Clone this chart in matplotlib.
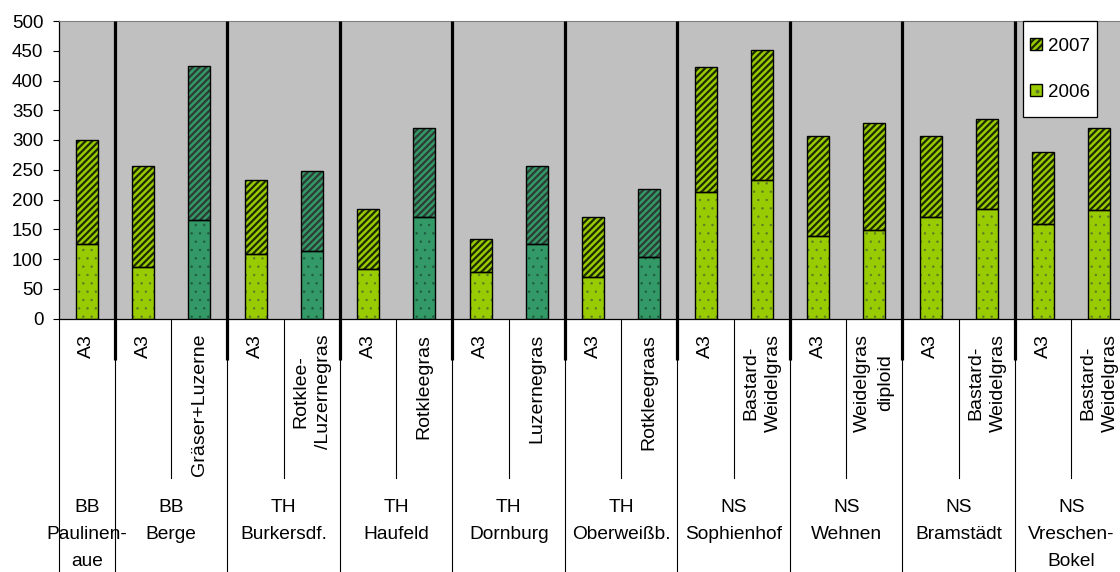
import matplotlib
matplotlib.use("Agg")
import matplotlib.pyplot as plt
from matplotlib.patches import Patch, Rectangle
from matplotlib.transforms import blended_transform_factory

plt.rcParams['font.family'] = ['Liberation Sans', 'DejaVu Sans']
plt.rcParams['hatch.linewidth'] = 1.6

# ---- data -------------------------------------------------------------
groups = ["BB\nPaulinen-\naue", "BB\nBerge", "TH\nBurkersdf.", "TH\nHaufeld",
          "TH\nDornburg", "TH\nOberweißb.", "NS\nSophienhof", "NS\nWehnen",
          "NS\nBramstädt", "NS\nVreschen-\nBokel"]
group_sizes = [1, 2, 2, 2, 2, 2, 2, 2, 2, 2]
categories = ["A3",
              "A3", "Gräser+Luzerne",
              "A3", "Rotklee-\n/Luzernegras",
              "A3", "Rotkleegras",
              "A3", "Luzernegras",
              "A3", "Rotkleegraas",
              "A3", "Bastard-\nWeidelgras",
              "A3", "Weidelgras\ndiploid",
              "A3", "Bastard-\nWeidelgras",
              "A3", "Bastard-\nWeidelgras"]
v2006 = [125, 87, 166, 108, 113, 84, 171, 78, 126, 69, 103,
         213, 232, 139, 148, 171, 184, 158, 182]
v2007 = [175, 169, 259, 124, 135, 100, 149, 56, 130, 102, 114,
         210, 219, 168, 180, 136, 151, 122, 138]
# mixtures on the BB / TH sites are drawn in the second colour
mixture = [False, False, True, False, True, False, True, False, True, False, True,
           False, False, False, False, False, False, False, False]
yticks = list(range(0, 501, 50))

# ---- style ------------------------------------------------------------
W, H = 1120, 572
GREEN, TEAL = "#99cc00", "#339966"
HATCH_GREEN, HATCH_TEAL = "#1e2a00", "#2e3a36"
DOT_GREEN, DOT_TEAL = "#5d7a28", "#1f5a40"


def fy(px):
    """pixel row (from top) -> figure fraction"""
    return 1 - px / H


def thin_dots(container):
    for p in container:
        if hasattr(p, "set_hatch_linewidth"):
            p.set_hatch_linewidth(0.5)


fig = plt.figure(figsize=(W / 100, H / 100), dpi=100)
ax = fig.add_axes([58.7 / W, fy(318.5), 19 * 56.25 / W, (318.5 - 21) / H])
ax.set_facecolor("#c0c0c0")

x = list(range(len(categories)))
face = [TEAL if m else GREEN for m in mixture]
hcol = [HATCH_TEAL if m else HATCH_GREEN for m in mixture]
dcol = [DOT_TEAL if m else DOT_GREEN for m in mixture]
bw = 0.39

# 2006 (dotted), 2007 (dark upward diagonal) stacked on top
ax.bar(x, v2006, bw, color=face, linewidth=0, zorder=2)
thin_dots(ax.bar(x, v2006, bw, facecolor="none", edgecolor=dcol, hatch="..",
                 linewidth=0, zorder=3))
ax.bar(x, v2006, bw, facecolor="none", edgecolor="black", linewidth=1.0, zorder=4)
ax.bar(x, v2007, bw, bottom=v2006, color=face, linewidth=0, zorder=2)
ax.bar(x, v2007, bw, bottom=v2006, facecolor="none", edgecolor=hcol, hatch="/////",
       linewidth=0, zorder=3)
ax.bar(x, v2007, bw, bottom=v2006, facecolor="none", edgecolor="black", linewidth=1.0, zorder=4)

ax.set_xlim(-0.5, len(categories) - 0.5)
ax.set_ylim(0, 500)
ax.set_yticks(yticks)
ax.set_xticks([])
ax.tick_params(axis="y", direction="out", length=4, width=0.8, pad=7, labelsize=13.5)
for s in ["left", "bottom"]:
    ax.spines[s].set_color("black")
    ax.spines[s].set_linewidth(0.9)
ax.spines["top"].set_color("#808080")
ax.spines["right"].set_visible(False)

# ---- multi-level category axis ----------------------------------------
tr = blended_transform_factory(ax.transData, fig.transFigure)

for i, lab in enumerate(categories):
    ax.text(i, fy(334), lab, transform=tr, rotation=90, ha="center", va="top",
            multialignment="center", fontsize=14, linespacing=1.45, clip_on=False)

starts = [sum(group_sizes[:k]) for k in range(len(group_sizes))]
bounds = set(s - 0.5 for s in starts) | {len(categories) - 0.5}
for b in [i - 0.5 for i in range(len(categories) + 1)]:
    low = H if b in bounds else 478
    ax.plot([b, b], [fy(318.5), fy(low)], transform=tr, color="black",
            linewidth=0.8, clip_on=False, zorder=1)

for g, s, n in zip(groups, starts, group_sizes):
    ax.text(s + (n - 1) / 2, fy(499), g, transform=tr, ha="center", va="top",
            multialignment="center", fontsize=13.8, linespacing=1.75, clip_on=False)

# heavy separators between the sites
for s in starts[1:]:
    ax.plot([s - 0.5, s - 0.5], [fy(21), fy(360)], transform=tr, color="black",
            linewidth=2.3, clip_on=False, zorder=5, solid_capstyle="butt")

# ---- legend -----------------------------------------------------------
def handle(hatch, hc):
    return (Patch(facecolor=GREEN, linewidth=0),
            Patch(facecolor="none", edgecolor=hc, hatch=hatch, linewidth=0),
            Patch(facecolor="none", edgecolor="black", linewidth=1.0))


box = Rectangle((1023 / W, fy(117)), 74 / W, 96 / H, transform=fig.transFigure,
                facecolor="white", edgecolor="black", linewidth=0.9, zorder=9,
                clip_on=False)
ax.add_patch(box)
leg = ax.legend([handle("/////", HATCH_GREEN), handle("..", DOT_GREEN)], ["2007", "2006"],
                loc="upper left", bbox_to_anchor=(1026 / W, fy(34)),
                bbox_transform=fig.transFigure, borderaxespad=0, fontsize=13.5,
                handlelength=0.65, handleheight=0.65, handletextpad=0.3,
                labelspacing=1.55, borderpad=0.2, frameon=False)
leg.set_zorder(10)

fig.savefig("out.png", dpi=100)
